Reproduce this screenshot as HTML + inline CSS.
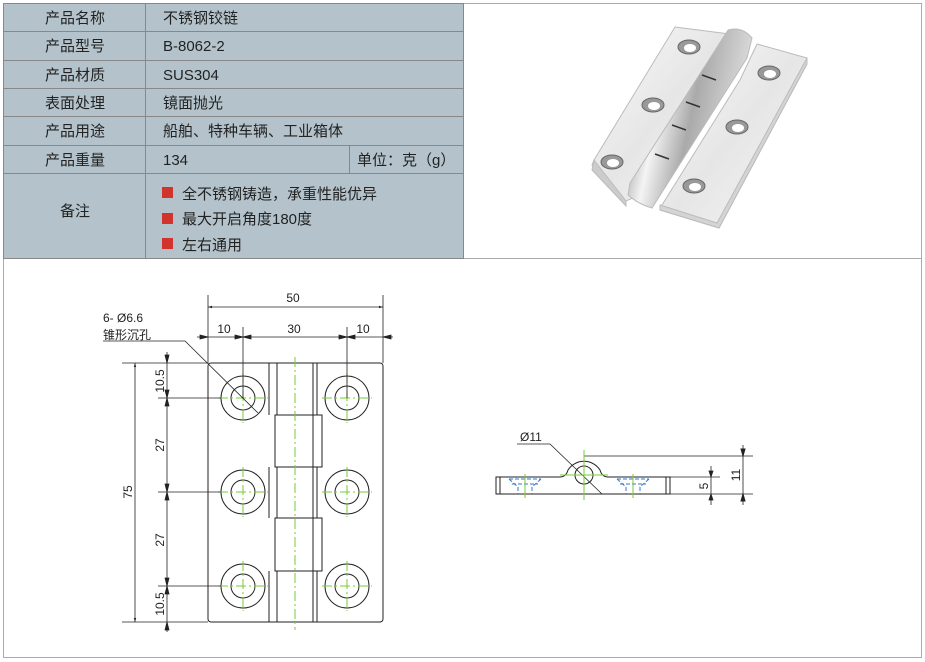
<!DOCTYPE html>
<html><head><meta charset="utf-8"><style>
body{margin:0;width:925px;height:662px;background:#fff;overflow:hidden;font-family:"Liberation Sans","Noto Sans CJK SC",sans-serif;}
svg{position:absolute;left:0;top:0}
</style></head><body>
<svg width="925" height="662" viewBox="0 0 925 662" font-family="Liberation Sans, Noto Sans CJK SC, sans-serif">
<defs>
<marker id="a" viewBox="0 0 10 10" refX="10" refY="5" markerWidth="7" markerHeight="5" orient="auto-start-reverse"><path d="M0,2 L10,5 L0,8z" fill="#222"/></marker>
<linearGradient id="m" x1="0" y1="0" x2="1" y2="1"><stop offset="0" stop-color="#fafafa"/><stop offset=".5" stop-color="#e6e6e6"/><stop offset="1" stop-color="#f6f6f6"/></linearGradient>
<linearGradient id="k" x1="0" y1="0" x2="1" y2="0.3"><stop offset="0" stop-color="#666"/><stop offset=".35" stop-color="#f4f4f4"/><stop offset=".6" stop-color="#aaa"/><stop offset="1" stop-color="#e0e0e0"/></linearGradient>
</defs>
<rect x="3.5" y="3.5" width="918" height="654" fill="none" stroke="#aaa"/>
<line x1="3" y1="258.5" x2="922" y2="258.5" stroke="#aaa"/>
<rect x="3.5" y="3.5" width="460" height="255" fill="#b4c3cb" stroke="#888"/>
<g stroke="#888">
<line x1="3" y1="31.5" x2="463" y2="31.5"/><line x1="3" y1="60.5" x2="463" y2="60.5"/>
<line x1="3" y1="88.5" x2="463" y2="88.5"/><line x1="3" y1="116.5" x2="463" y2="116.5"/>
<line x1="3" y1="145.5" x2="463" y2="145.5"/><line x1="3" y1="173.5" x2="463" y2="173.5"/>
<line x1="145.5" y1="3" x2="145.5" y2="258"/><line x1="349.5" y1="145" x2="349.5" y2="173"/>
</g>
<g font-size="15" fill="#222">
<g text-anchor="middle"><text x="75" y="23">产品名称</text><text x="75" y="51">产品型号</text><text x="75" y="80">产品材质</text><text x="75" y="108">表面处理</text><text x="75" y="136">产品用途</text><text x="75" y="165">产品重量</text><text x="75" y="216">备注</text></g>
<text x="163" y="23">不锈钢铰链</text><text x="163" y="51">B-8062-2</text><text x="163" y="80">SUS304</text><text x="163" y="108">镜面抛光</text><text x="163" y="136">船舶、特种车辆、工业箱体</text><text x="163" y="165">134</text><text x="357" y="165">单位：克（g）</text>
<text x="182" y="199">全不锈钢铸造，承重性能优异</text><text x="182" y="224">最大开启角度180度</text><text x="182" y="250">左右通用</text>
</g>
<g fill="#d0342c"><rect x="162" y="187" width="11" height="11"/><rect x="162" y="213" width="11" height="11"/><rect x="162" y="238" width="11" height="11"/></g>
<!-- photo -->
<g stroke="#bbb" stroke-width="1">
<polygon points="675,27 730,34 650,190 626,201 592,165 594,160" fill="url(#m)"/>
<polygon points="594,160 626,201 626,206 592,170" fill="#ccc"/>
<polygon points="757,44 807,58 807,64 719,228 660,210 662,205 740,80" fill="url(#m)"/>
<polygon points="660,205 717,223 807,58 807,64 719,228 660,210" fill="#d4d4d4"/>
<path d="M728,30 Q742,26 752,38 L747,58 L652,208 Q638,204 628,195 L630,183 Z" fill="url(#k)"/>
</g>
<g stroke="#333" stroke-width="1.5"><path d="M702,75l14,5M686,102l14,5M672,125l14,5M655,154l14,5"/></g>
<g fill="#999" stroke="#666"><ellipse cx="689" cy="47" rx="11" ry="7"/><ellipse cx="653" cy="105" rx="11" ry="7"/><ellipse cx="612" cy="162" rx="11" ry="7"/><ellipse cx="769" cy="73" rx="11" ry="7"/><ellipse cx="737" cy="127" rx="11" ry="7"/><ellipse cx="694" cy="186" rx="11" ry="7"/></g>
<g fill="#fff"><ellipse cx="690" cy="48" rx="6" ry="4"/><ellipse cx="654" cy="106" rx="6" ry="4"/><ellipse cx="613" cy="163" rx="6" ry="4"/><ellipse cx="770" cy="74" rx="6" ry="4"/><ellipse cx="738" cy="128" rx="6" ry="4"/><ellipse cx="695" cy="187" rx="6" ry="4"/></g>
<!-- plan view -->
<g fill="none" stroke="#222" stroke-width="1">
<rect x="208" y="363" width="175" height="259" rx="3"/>
<path d="M269,363V415M277,363V415M313,363V415M317,363V415"/>
<path d="M269,467V518M277,467V518M313,467V518M317,467V518"/>
<path d="M269,571V622M277,571V622M313,571V622M317,571V622"/>
<rect x="275" y="415" width="47" height="52"/><rect x="275" y="518" width="47" height="53"/>
<path d="M313,415V467M313,518V571"/>
</g>
<g fill="none" stroke="#222"><circle cx="243" cy="398" r="22"/><circle cx="243" cy="398" r="12"/><circle cx="347" cy="398" r="22"/><circle cx="347" cy="398" r="12"/><circle cx="243" cy="492" r="22"/><circle cx="243" cy="492" r="12"/><circle cx="347" cy="492" r="22"/><circle cx="347" cy="492" r="12"/><circle cx="243" cy="586" r="22"/><circle cx="243" cy="586" r="12"/><circle cx="347" cy="586" r="22"/><circle cx="347" cy="586" r="12"/></g>
<g stroke="#7c3" stroke-width="1" stroke-dasharray="10,3,2,3"><path d="M218,398H268M322,398H372M218,492H268M322,492H372M218,586H268M322,586H372M243,373V423M347,373V423M243,467V517M347,467V517M243,561V611M347,561V611M295,357V630"/></g>
<g stroke="#222" stroke-width="0.8" fill="none">
<path d="M208,295V363M383,295V363M243,327V398M347,327V398"/>
<line x1="208" y1="307" x2="383" y2="307" marker-start="url(#a)" marker-end="url(#a)"/>
<line x1="197" y1="337" x2="393" y2="337"/>
<path d="M208,337l-8,-2v4zM243,337l-8,-2v4zM243,337l8,-2v4zM347,337l-8,-2v4zM347,337l8,-2v4zM383,337l8,-2v4z" fill="#222"/>
<path d="M122,363H208M122,622H208M158,398H221M158,492H221M158,586H221"/>
<line x1="135" y1="363" x2="135" y2="622" marker-start="url(#a)" marker-end="url(#a)"/>
<line x1="167" y1="352" x2="167" y2="632"/>
<path d="M167,363l-2,-8h4zM167,398l-2,-8h4zM167,398l-2,8h4zM167,492l-2,-8h4zM167,492l-2,8h4zM167,586l-2,-8h4zM167,586l-2,8h4zM167,622l-2,8h4z" fill="#222"/>
<path d="M103,341H185L258,413"/>
</g>
<g font-size="12" fill="#222" text-anchor="middle"><text x="293" y="302">50</text><text x="224" y="333">10</text><text x="294" y="333">30</text><text x="363" y="333">10</text></g>
<g font-size="12" fill="#222" text-anchor="middle">
<text transform="translate(132,492) rotate(-90)">75</text>
<text transform="translate(164,381) rotate(-90)">10.5</text>
<text transform="translate(164,445) rotate(-90)">27</text>
<text transform="translate(164,540) rotate(-90)">27</text>
<text transform="translate(164,604) rotate(-90)">10.5</text>
</g>
<text x="103" y="322" font-size="12" fill="#222">6- Ø6.6</text>
<text x="103" y="339" font-size="12" fill="#222">锥形沉孔</text>
<!-- side view -->
<g fill="none" stroke="#222" stroke-width="1">
<path d="M496,477H560Q566,477 568,470A19,19 0 0 1 600,470Q602,477 608,477H670V494H496Z"/>
<path d="M500,477V494M666,477V494"/>
<circle cx="584" cy="475" r="9"/>
<path d="M584,456H753M670,477H720M670,494H753" stroke-width="0.8"/>
<line x1="711" y1="477" x2="711" y2="494" stroke-width="0.8"/>
<path d="M711,466V477l-2,-6h4l-2,6M711,505V494l-2,6h4l-2,-6" fill="#222" stroke-width="0.8"/>
<line x1="743" y1="445" x2="743" y2="505" stroke-width="0.8"/>
<path d="M743,456l-2,-7h4zM743,494l-2,7h4z" fill="#222"/>
<path d="M517,444H550L602,494" stroke-width="0.8"/>
</g>
<g stroke="#37c" stroke-dasharray="4,2" fill="none"><path d="M509,479L518,487V494M541,479L532,487V494M512,484H538M617,479L626,487V494M649,479L640,487V494M620,484H646M509,479H541M617,479H649"/></g>
<g stroke="#7c3"><path d="M525,474V498M633,474V498M584,450V500M560,475H608"/></g>
<text x="520" y="441" font-size="12" fill="#222">Ø11</text>
<g font-size="12" fill="#222" text-anchor="middle"><text transform="translate(708,486) rotate(-90)">5</text><text transform="translate(740,475) rotate(-90)">11</text></g>
</svg>
</body></html>
